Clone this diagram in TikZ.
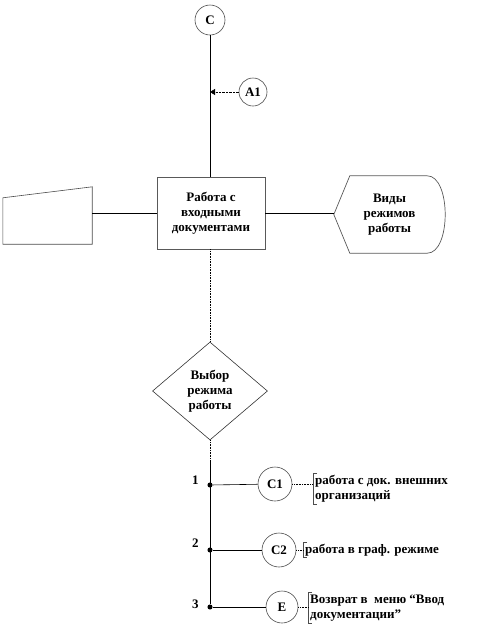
\documentclass[tikz,border=0pt]{standalone}
\usepackage{fontspec}
\setmainfont{Liberation Serif}
\usetikzlibrary{shapes.geometric, arrows.meta, positioning, calc}
\tikzstyle{arrow}=[-{Triangle[length=5pt, width=6pt]}, densely dotted, thin, color=black]

\begin{document}
\begin{tikzpicture}[x=1pt, y=-1pt,
  every node/.style={font=\fontsize{13}{15}\selectfont\bfseries},
  link/.style={circle, draw=black!70, line width=0.6pt, minimum size=32pt, inner sep=0pt},
  proc/.style={rectangle, draw=black!65, line width=0.7pt,
               minimum width=108pt, minimum height=72pt, align=center},
  choice/.style={diamond, draw=black!80, line width=0.6pt, minimum width=115pt,
                 minimum height=98pt, inner sep=0pt, align=center},
  ghost/.style={rectangle, draw=none, inner sep=0pt},
  junc/.style={circle, fill=black, inner sep=1.8pt},
  note/.style={anchor=west, inner xsep=2pt, inner ysep=2pt, align=left},
  line/.style={draw=black, line width=0.6pt}
]
\useasboundingbox (0,0) rectangle (492,630);

% Top entry
\node[link, minimum size=30pt] (C) at (210,20) {C};
\node[link, minimum size=28pt] (A1) at (253,92) {A1};

% Main process and its neighbours
\node[proc] (work) at (211,213) {Работа с\\входными\\документами};
\node[ghost, minimum width=89pt, minimum height=57pt] (input) at (47.5,215.5) {};
\node[ghost, minimum width=111pt, minimum height=77pt, align=center] (modes) at (389.5,214.5)
  {Виды\\режимов\\работы};
\draw[line, draw=black!70] (input.south west) -- (input.south east) -- (input.north east)
  -- ([yshift=-11pt]input.north west) -- cycle;
\draw[line, draw=black!65, line width=0.7pt] (modes.west) -- ([xshift=16pt]modes.north west)
  -- ([xshift=-18pt]modes.north east)
  .. controls ([xshift=6pt]modes.north east) and ([xshift=6pt]modes.south east) ..
  ([xshift=-18pt]modes.south east) -- ([xshift=16pt]modes.south west) -- cycle;

% Choice
\node[choice] (pick) at (210,391) {Выбор\\режима\\работы};
\coordinate (bus) at (210,460);

% Branches
\node[junc] (b1) at (210,485) {};
\node[junc] (b2) at (210,550) {};
\node[junc] (b3) at (210,607) {};
\node[left=5pt of b1, yshift=5pt] (n1) {1};
\node[left=5pt of b2, yshift=7pt] (n2) {2};
\node[left=5pt of b3, yshift=3pt] (n3) {3};
\node[link, minimum size=34pt] (C1) at (275,484) {C1};
\node[link, minimum size=34pt] (C2) at (279,550) {C2};
\node[link] (E) at (282,607) {E};
\node[note] (t1) at (313,489) {работа с док. внешних\\организаций};
\node[note, inner ysep=1pt] (t2) at (303,550) {работа в граф. режиме};
\node[note] (t3) at (308,608) {Возврат в \ меню “Ввод\\ документации”};
\foreach \t in {t1,t2,t3}
  \draw[line, draw=black!70] ([xshift=4pt]\t.north west) -- (\t.north west)
    -- (\t.south west) -- ([xshift=4pt]\t.south west);

% Connectors
\draw[line] (C) -- (C |- work.north);
\draw[arrow] (A1.west) -- (A1.west -| C);
\draw[line] (input.east |- work.west) -- (work.west);
\draw[line] (work.east) -- (work.east -| modes.west);
\draw[line, densely dotted] (work.south -| C) -- (pick.north);
\draw[line, densely dotted] (pick.south) -- (bus);
\draw[line] (bus) -- (b3);
\draw[line] (b1) -- (C1);
\draw[line] (b2) -- (C2);
\draw[line] (b3) -- (E);
\draw[line, densely dotted] (C1.east) -- (C1.east -| t1.west);
\draw[line, densely dotted] (C2.east) -- (C2.east -| t2.west);
\draw[line, densely dotted] (E.east) -- (E.east -| t3.west);
\end{tikzpicture}
\end{document}
